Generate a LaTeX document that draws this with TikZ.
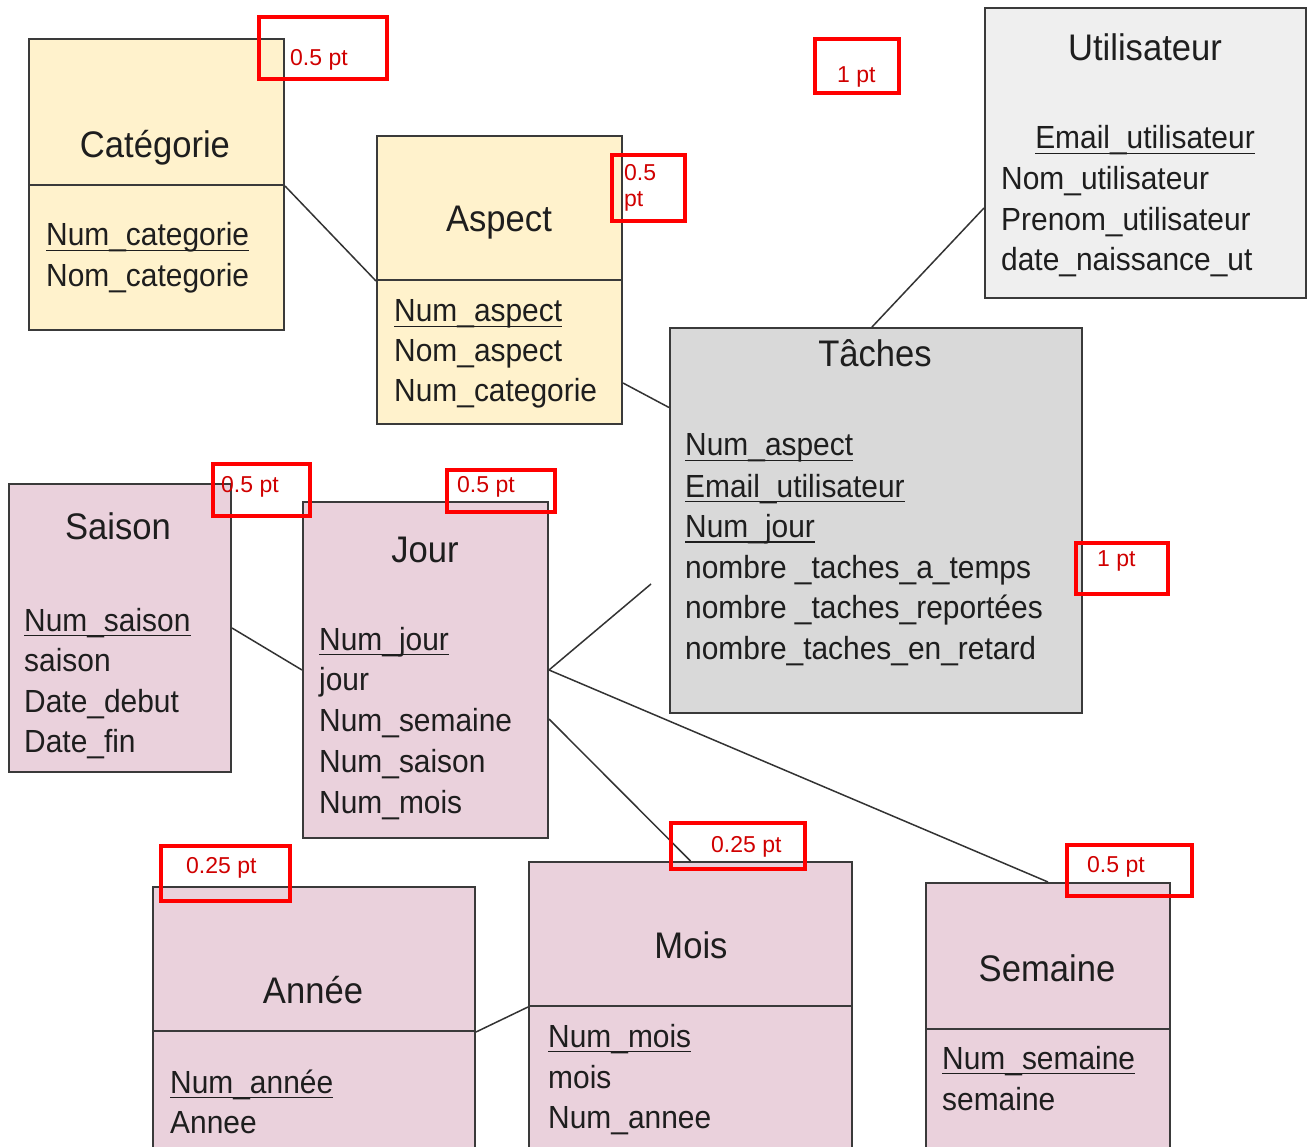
\documentclass[tikz,border=0pt]{standalone}
\usepackage{fontspec}
\setmainfont{Liberation Sans}[FakeStretch=0.935]
\newfontfamily\redfont{Liberation Sans}
\usetikzlibrary{calc}
\definecolor{yel}{HTML}{FFF2CC}
\definecolor{pink}{HTML}{EAD1DC}
\definecolor{ugray}{HTML}{EFEFEF}
\definecolor{tgray}{HTML}{D9D9D9}
\definecolor{boxc}{HTML}{3A3A3A}
\definecolor{linec}{HTML}{333333}
\definecolor{txt}{HTML}{1E1E1E}
\definecolor{redtxt}{HTML}{D00000}
\begin{document}
\begin{tikzpicture}[x=1pt,y=-1pt,
  ent/.style={draw=boxc,line width=2pt,inner sep=0pt,anchor=north west,rectangle},
  ttl/.style={anchor=base,inner sep=0pt,text=txt,font=\fontsize{37}{44}\selectfont},
  attr/.style={anchor=base west,inner sep=0pt,text=txt,font=\fontsize{32}{40}\selectfont},
  rbox/.style={draw=red,line width=4pt,inner sep=0pt,anchor=north west,rectangle},
  rtxt/.style={anchor=base west,inner sep=0pt,text=redtxt,font=\redfont\fontsize{23}{27}\selectfont},
  conn/.style={draw=linec,line width=1.5pt},
  ul/.style={draw=txt,line width=1.8pt}]
\fill[white] (0,0) rectangle (1307,1147);
\clip (0,0) rectangle (1307,1147);
% Entities
\node[ent,fill=yel,minimum width=255pt,minimum height=146pt] (cath) at (28,38) {};
\node[ent,fill=yel,minimum width=255pt,minimum height=145pt] (catb) at (28,184) {};
\node[ent,fill=yel,minimum width=245pt,minimum height=144pt] (asph) at (376,135) {};
\node[ent,fill=yel,minimum width=245pt,minimum height=144pt] (aspb) at (376,279) {};
\node[ent,fill=ugray,minimum width=321pt,minimum height=290pt] (util) at (984,7) {};
\node[ent,fill=tgray,minimum width=412pt,minimum height=385pt] (tach) at (669,327) {};
\node[ent,fill=pink,minimum width=222pt,minimum height=288pt] (sais) at (8,483) {};
\node[ent,fill=pink,minimum width=245pt,minimum height=336pt] (jour) at (302,501) {};
\node[ent,fill=pink,minimum width=322pt,minimum height=144pt] (anh) at (152,886) {};
\node[ent,fill=pink,minimum width=322pt,minimum height=140pt] (anb) at (152,1030) {};
\node[ent,fill=pink,minimum width=323pt,minimum height=144pt] (moish) at (528,861) {};
\node[ent,fill=pink,minimum width=323pt,minimum height=165pt] (moisb) at (528,1005) {};
\node[ent,fill=pink,minimum width=244pt,minimum height=146pt] (semh) at (925,882) {};
\node[ent,fill=pink,minimum width=244pt,minimum height=142pt] (semb) at (925,1028) {};
% Titles
\node[ttl] (tcat) at (155,158) {Catégorie};
\node[ttl] (tasp) at (499,232) {Aspect};
\node[ttl] (tutil) at (1145,61) {Utilisateur};
\node[ttl] (ttach) at (875,367) {Tâches};
\node[ttl] (tsais) at (118,539) {Saison};
\node[ttl] (tjour) at (425,562) {Jour};
\node[ttl] (tan) at (313,1003) {Année};
\node[ttl] (tmois) at (691,958) {Mois};
\node[ttl] (tsem) at (1047,981) {Semaine};
% Attributes
\node[attr] (c1) at (46,246) {Num\_categorie};
\node[attr] (c2) at (46,287) {Nom\_categorie};
\node[attr] (a1) at (394,322) {Num\_aspect};
\node[attr] (a2) at (394,362) {Nom\_aspect};
\node[attr] (a3) at (394,402) {Num\_categorie};
\node[attr,anchor=base] (u1) at (1145,149) {Email\_utilisateur};
\node[attr] (u2) at (1001,189.5) {Nom\_utilisateur};
\node[attr] (u3) at (1001,230.5) {Prenom\_utilisateur};
\node[attr] (u4) at (1001,271) {date\_naissance\_ut};
\node[attr] (t1) at (685,456) {Num\_aspect};
\node[attr] (t2) at (685,497) {Email\_utilisateur};
\node[attr] (t3) at (685,537.5) {Num\_jour};
\node[attr] (t4) at (685,578) {nombre \_taches\_a\_temps};
\node[attr] (t5) at (685,618.5) {nombre \_taches\_reportées};
\node[attr] (t6) at (685,659) {nombre\_taches\_en\_retard};
\node[attr] (s1) at (24,631) {Num\_saison};
\node[attr] (s2) at (24,671.5) {saison};
\node[attr] (s3) at (24,712) {Date\_debut};
\node[attr] (s4) at (24,752.5) {Date\_fin};
\node[attr] (j1) at (319,650) {Num\_jour};
\node[attr] (j2) at (319,690.7) {jour};
\node[attr] (j3) at (319,731.4) {Num\_semaine};
\node[attr] (j4) at (319,772) {Num\_saison};
\node[attr] (j5) at (319,813) {Num\_mois};
\node[attr] (n1) at (170,1093) {Num\_année};
\node[attr] (n2) at (170,1133) {Annee};
\node[attr] (m1) at (548,1047) {Num\_mois};
\node[attr] (m2) at (548,1088) {mois};
\node[attr] (m3) at (548,1128) {Num\_annee};
\node[attr] (w1) at (942,1069) {Num\_semaine};
\node[attr] (w2) at (942,1110) {semaine};
% Underlines
\foreach \n in {c1,a1,u1,t1,t2,t3,s1,j1,n1,m1,w1}
  \draw[ul] ([yshift=-4.5pt]\n.base west) -- ([yshift=-4.5pt]\n.base east);
% Connectors
\coordinate (jt) at (651,584);
\draw[conn] (cath.south east) -- (asph.south west);
\draw[conn] ([yshift=-31pt]aspb.east) -- ([yshift=113pt]tach.west);
\draw[conn] ([xshift=-4pt]tach.north) -- ([yshift=-55pt]util.west);
\draw[conn] (sais.east) -- (jour.west);
\draw[conn] (jour.east) -- (jt);
\draw[conn] (jour.east) -- (semh.north);
\draw[conn] ([yshift=-49pt]jour.east) -- (moish.north);
\draw[conn] (anh.south east) -- (moish.south west);
% Red boxes
\node[rbox,minimum width=128pt,minimum height=62pt] (rb1) at (257,15) {};
\node[rbox,minimum width=73pt,minimum height=66pt] (rb2) at (610,153) {};
\node[rbox,minimum width=84pt,minimum height=54pt] (rb3) at (813,37) {};
\node[rbox,minimum width=92pt,minimum height=51pt] (rb4) at (1074,541) {};
\node[rbox,minimum width=97pt,minimum height=52pt] (rb5) at (211,462) {};
\node[rbox,minimum width=108pt,minimum height=42pt] (rb6) at (445,468) {};
\node[rbox,minimum width=129pt,minimum height=55pt] (rb7) at (159,844) {};
\node[rbox,minimum width=134pt,minimum height=46pt] (rb8) at (669,821) {};
\node[rbox,minimum width=125pt,minimum height=51pt] (rb9) at (1065,843) {};
\node[rtxt] (r1) at (290,66) {0.5 pt};
\node[rtxt] (r2) at (624,181) {0.5};
\node[rtxt] (r2b) at (624,207) {pt};
\node[rtxt] (r3) at (837,82.5) {1 pt};
\node[rtxt] (r4) at (1097,566.5) {1 pt};
\node[rtxt] (r5) at (221,492) {0.5 pt};
\node[rtxt] (r6) at (457,492) {0.5 pt};
\node[rtxt] (r7) at (186,873) {0.25 pt};
\node[rtxt] (r8) at (711,852) {0.25 pt};
\node[rtxt] (r9) at (1087,872) {0.5 pt};
\end{tikzpicture}
\end{document}
